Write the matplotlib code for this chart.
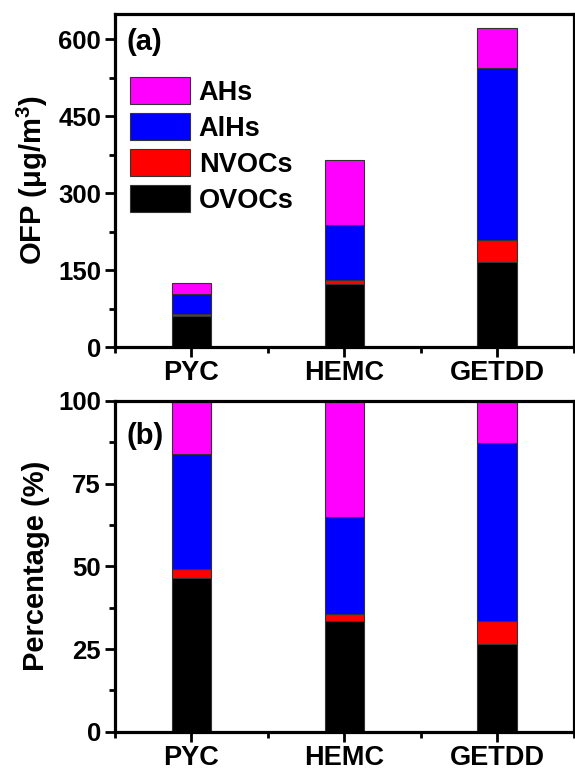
import matplotlib
matplotlib.use("Agg")
import matplotlib.pyplot as plt
from matplotlib.ticker import MultipleLocator, FixedLocator
import numpy as np

plt.rcParams['font.family'] = ['Liberation Sans', 'DejaVu Sans']
plt.rcParams['font.weight'] = 'bold'
plt.rcParams['mathtext.fontset'] = 'custom'
plt.rcParams['mathtext.rm'] = 'Liberation Sans:bold'
plt.rcParams['mathtext.bf'] = 'Liberation Sans:bold'
plt.rcParams['mathtext.default'] = 'bf'

sites = ["PYC", "HEMC", "GETDD"]
groups = ["OVOCs", "NVOCs", "AlHs", "AHs"]
colors = {"OVOCs": "#000000", "NVOCs": "#FF0000", "AlHs": "#0000FF", "AHs": "#FF00FF"}

# OFP (ug/m3), panel (a)
ofp_ovocs = [60, 123, 166]
ofp_nvocs = [4, 8, 43]
ofp_alhs = [40, 106, 334]
ofp_ahs = [21, 127, 79]

# Percentage (%), panel (b)
pct_ovocs = [46.4, 33.4, 26.6]
pct_nvocs = [2.9, 2.3, 6.8]
pct_alhs = [34.7, 29.2, 53.9]
pct_ahs = [16.0, 35.1, 12.7]

ofp = {"OVOCs": ofp_ovocs, "NVOCs": ofp_nvocs, "AlHs": ofp_alhs, "AHs": ofp_ahs}
pct = {"OVOCs": pct_ovocs, "NVOCs": pct_nvocs, "AlHs": pct_alhs, "AHs": pct_ahs}

fig = plt.figure(figsize=(5.75, 7.72), dpi=100)
ax1 = fig.add_axes([0.200, 0.5505, 0.798, 0.4315])
ax2 = fig.add_axes([0.200, 0.0520, 0.798, 0.4289])

x = np.arange(1, len(sites) + 1)
width = 0.26

def draw(ax, data):
    bottom = np.zeros(len(sites))
    handles = {}
    for g in groups:
        vals = np.array(data[g], dtype=float)
        h = ax.bar(x, vals, width, bottom=bottom, color=colors[g],
                   edgecolor='#333333', linewidth=0.8, label=g)
        handles[g] = h
        bottom += vals
    return handles

h = draw(ax1, ofp)
draw(ax2, pct)

for ax in (ax1, ax2):
    ax.set_xlim(0.5, 3.5)
    ax.set_xticks(x)
    ax.set_xticklabels(sites)
    ax.xaxis.set_minor_locator(FixedLocator([0.5, 1.5, 2.5, 3.5]))
    for s in ax.spines.values():
        s.set_linewidth(2.3)
    ax.tick_params(axis='both', which='major', direction='out', length=7, width=2,
                   labelsize=18.5, pad=3)
    ax.tick_params(axis='both', which='minor', direction='out', length=4, width=2)
    ax.tick_params(axis='x', which='major', labelsize=19.5, pad=2.5)
    for lab in ax.get_xticklabels() + ax.get_yticklabels():
        lab.set_fontweight('bold')

ax1.set_ylim(0, 649)
ax1.yaxis.set_major_locator(MultipleLocator(150))
ax1.yaxis.set_minor_locator(MultipleLocator(75))
ax1.set_ylabel(r'OFP (μg/m$^{3}$)', fontsize=21, fontweight='bold', labelpad=6)

ax2.set_ylim(0, 100)
ax2.yaxis.set_major_locator(MultipleLocator(25))
ax2.yaxis.set_minor_locator(MultipleLocator(12.5))
ax2.set_ylabel('Percentage (%)', fontsize=21, fontweight='bold', labelpad=6)

ax1.text(0.026, 0.958, '(a)', transform=ax1.transAxes, fontsize=21,
         fontweight='bold', va='top', ha='left')
ax2.text(0.026, 0.935, '(b)', transform=ax2.transAxes, fontsize=21,
         fontweight='bold', va='top', ha='left')

leg_order = ["AHs", "AlHs", "NVOCs", "OVOCs"]
leg = ax1.legend([h[g] for g in leg_order], leg_order, loc='upper left',
                 bbox_to_anchor=(0.033, 0.812), frameon=False, fontsize=19.5,
                 handlelength=2.2, handleheight=1.2, labelspacing=0.26,
                 handletextpad=0.33, borderaxespad=0.0, borderpad=0.0)
for t in leg.get_texts():
    t.set_fontweight('bold')

fig.savefig('out.png', dpi=100)
